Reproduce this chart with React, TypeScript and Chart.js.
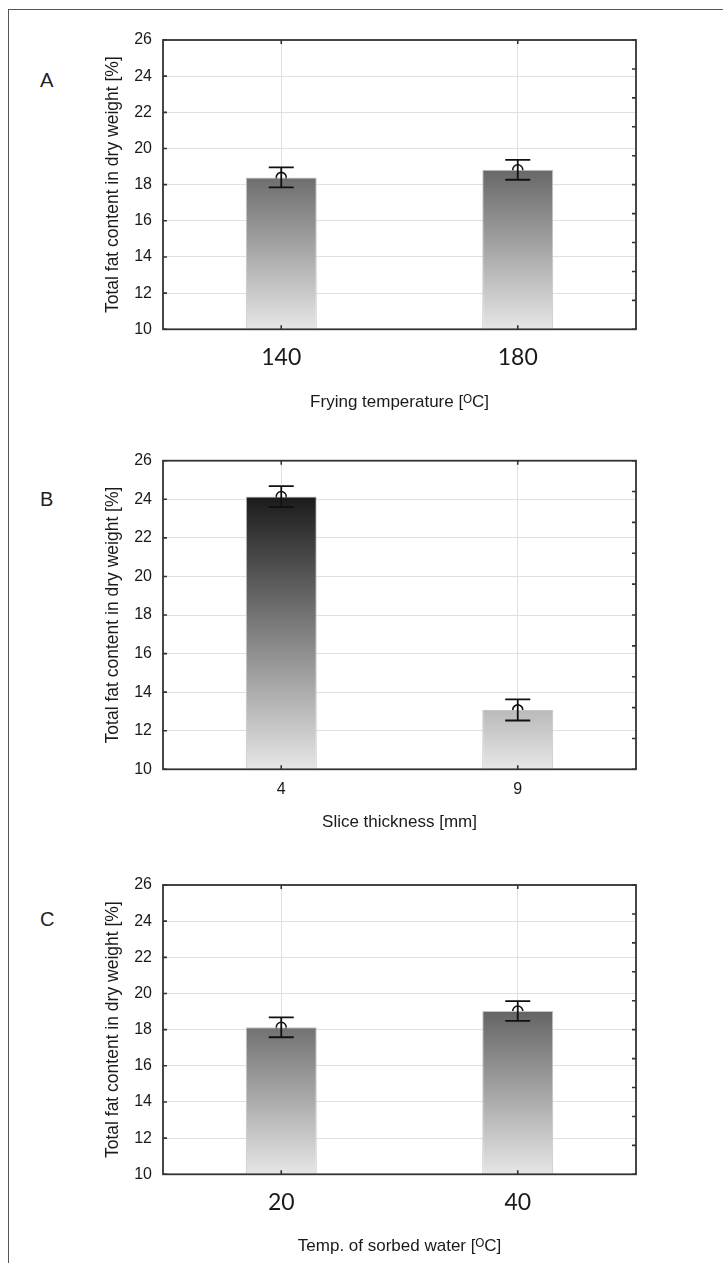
import React, { useEffect, useRef } from 'react';
import { Chart, registerables } from 'chart.js';

Chart.register(...registerables);

// ---- data ----
const yMin = 10;
const yMax = 26;
const yStep = 2;

const tempCategories = ['140', '180'];
const tempMeans = [18.4, 18.82];
const tempErrors = [0.55, 0.55];

const thickCategories = ['4', '9'];
const thickMeans = [24.14, 13.08];
const thickErrors = [0.54, 0.55];

const waterCategories = ['20', '40'];
const waterMeans = [18.13, 19.03];
const waterErrors = [0.55, 0.55];

const yTitle = 'Total fat content in dry weight [%]';
const tempTitle = 'Frying temperature [\u1D3CC]';
const thickTitle = 'Slice thickness [mm]';
const waterTitle = 'Temp. of sorbed water [\u1D3CC]';

const SANS = "'Liberation Sans', 'DejaVu Sans', Arial, sans-serif";
const LATO = "Lato, 'Liberation Sans', sans-serif";

const statisticaPlugin = {
  id: 'statistica',
  afterDatasetsDraw(chart: any, _args: any, opts: any) {
    const { ctx, chartArea: a, scales } = chart;
    const x = scales.x;
    const y = scales.y;
    const y2 = scales.y2;
    const means = chart.data.datasets[0].data as number[];
    ctx.save();
    // error bars
    ctx.strokeStyle = '#111';
    ctx.lineWidth = 1.8;
    means.forEach((m: number, i: number) => {
      const e = opts.errors[i];
      const px = x.getPixelForValue(i);
      const top = y.getPixelForValue(m + e);
      const bot = y.getPixelForValue(m - e);
      ctx.beginPath();
      ctx.moveTo(px, top);
      ctx.lineTo(px, bot);
      ctx.moveTo(px - 12.5, top);
      ctx.lineTo(px + 12.5, top);
      ctx.moveTo(px - 12.5, bot);
      ctx.lineTo(px + 12.5, bot);
      ctx.stroke();
    });
    // plot frame
    ctx.strokeStyle = '#333';
    ctx.lineWidth = 1.8;
    ctx.strokeRect(a.left, a.top, a.right - a.left, a.bottom - a.top);
    // inward tick marks
    ctx.lineWidth = 1.6;
    ctx.beginPath();
    y.ticks.forEach((_t: any, i: number) => {
      const py = y.getPixelForTick(i);
      ctx.moveTo(a.left, py);
      ctx.lineTo(a.left + 4, py);
    });
    y2.ticks.forEach((_t: any, i: number) => {
      const py = y2.getPixelForTick(i);
      ctx.moveTo(a.right, py);
      ctx.lineTo(a.right - 4, py);
    });
    x.ticks.forEach((_t: any, i: number) => {
      const px = x.getPixelForTick(i);
      ctx.moveTo(px, a.bottom);
      ctx.lineTo(px, a.bottom - 4);
      ctx.moveTo(px, a.top);
      ctx.lineTo(px, a.top + 4);
    });
    ctx.stroke();
    ctx.restore();
  },
};

type PanelProps = {
  categories: string[];
  means: number[];
  errors: number[];
  xTitle: string;
  top: number;
  height: number;
  padTop: number;
  xAxisHeight: number;
  xTickFont: any;
  xTickPad: number;
  xTitlePad: number;
};

function Panel(p: PanelProps) {
  const ref = useRef<HTMLCanvasElement>(null);
  useEffect(() => {
    if (!ref.current) return;
    const gradient = (c: any) => {
      const chart = c.chart;
      const { chartArea, scales } = chart;
      if (!chartArea) return '#888';
      const y0 = scales.y.getPixelForValue(yMin);
      const y1 = scales.y.getPixelForValue(yMax);
      const g = chart.ctx.createLinearGradient(0, y0, 0, y1);
      g.addColorStop(0, '#e6e6e6');
      g.addColorStop(1, '#000000');
      return g;
    };
    const chart = new Chart(ref.current, {
      type: 'bar',
      data: {
        labels: p.categories,
        datasets: [
          {
            type: 'bar',
            data: p.means,
            backgroundColor: gradient,
            borderColor: '#c4c4c4',
            borderWidth: 1,
            barPercentage: 0.3,
            categoryPercentage: 1,
            base: yMin,
          } as any,
          {
            type: 'line',
            data: p.means,
            showLine: false,
            pointRadius: 5,
            pointBorderWidth: 1.6,
            pointBorderColor: '#111',
            pointBackgroundColor: 'rgba(0,0,0,0)',
            pointStyle: 'circle',
          } as any,
        ],
      },
      options: {
        animation: false,
        responsive: false,
        devicePixelRatio: 1,
        layout: { padding: { top: p.padTop, right: 87, bottom: 0, left: 0 } },
        plugins: {
          legend: { display: false },
          tooltip: { enabled: false },
          statistica: { errors: p.errors },
        } as any,
        scales: {
          x: {
            type: 'category',
            offset: true,
            grid: { display: true, offset: false, color: '#e0e0e0', lineWidth: 1, drawTicks: false },
            border: { display: false },
            ticks: { font: p.xTickFont, color: '#1a1a1a', padding: p.xTickPad, maxRotation: 0 },
            title: {
              display: true,
              text: p.xTitle,
              color: '#1a1a1a',
              font: { family: SANS, size: 17 },
              padding: { top: 0, bottom: p.xTitlePad },
            },
            afterFit: (s: any) => {
              s.height = p.xAxisHeight;
            },
          },
          y: {
            type: 'linear',
            min: yMin,
            max: yMax,
            ticks: { stepSize: yStep, font: { family: SANS, size: 16 }, color: '#1a1a1a', padding: 11 },
            grid: { color: '#e0e0e0', lineWidth: 1, drawTicks: false },
            border: { display: false },
            title: {
              display: true,
              text: yTitle,
              color: '#1a1a1a',
              font: { family: SANS, size: 17.5 },
              padding: { top: 102.5, bottom: 0 },
            },
            afterFit: (s: any) => {
              s.width = 163;
            },
          },
          y2: {
            type: 'linear',
            position: 'right',
            min: 0,
            max: 10,
            ticks: { stepSize: 1, display: false },
            grid: { display: false, drawTicks: false },
            border: { display: false },
            afterFit: (s: any) => {
              s.width = 0;
            },
          },
        } as any,
      },
      plugins: [statisticaPlugin as any],
    });
    return () => chart.destroy();
  }, []);
  return (
    <canvas
      ref={ref}
      width={723}
      height={p.height}
      style={{ position: 'absolute', left: 0, top: p.top, width: 723, height: p.height }}
    />
  );
}

export default function App() {
  const latoTick = { family: LATO, size: 23 };
  const sansTick = { family: SANS, size: 16 };
  return (
    <div style={{ position: 'absolute', left: 0, top: 0, width: 723, height: 1263, background: '#fff', overflow: 'hidden' }}>
      <div
        style={{
          position: 'absolute',
          left: 8,
          top: 9,
          width: 715,
          height: 1254,
          borderTop: '1px solid #555',
          borderLeft: '1px solid #555',
        }}
      />
      <div style={{ position: 'absolute', left: 40, top: 69, fontFamily: LATO, fontSize: 20, lineHeight: '20px', color: '#222' }}>A</div>
      <div style={{ position: 'absolute', left: 40, top: 489, fontFamily: SANS, fontSize: 20, lineHeight: '20px', color: '#222' }}>B</div>
      <div style={{ position: 'absolute', left: 40, top: 909, fontFamily: SANS, fontSize: 20, lineHeight: '20px', color: '#222' }}>C</div>
      <Panel
        categories={tempCategories}
        means={tempMeans}
        errors={tempErrors}
        xTitle={tempTitle}
        top={0}
        height={420}
        padTop={40}
        xAxisHeight={420 - 329.3}
        xTickFont={latoTick}
        xTickPad={14.9}
        xTitlePad={7.8}
      />
      <Panel
        categories={thickCategories}
        means={thickMeans}
        errors={thickErrors}
        xTitle={thickTitle}
        top={420}
        height={420}
        padTop={40.7}
        xAxisHeight={420 - 349.3}
        xTickFont={sansTick}
        xTickPad={11}
        xTitlePad={7.8}
      />
      <Panel
        categories={waterCategories}
        means={waterMeans}
        errors={waterErrors}
        xTitle={waterTitle}
        top={840}
        height={423}
        padTop={45}
        xAxisHeight={423 - 334.3}
        xTickFont={latoTick}
        xTickPad={14.9}
        xTitlePad={6.8}
      />
    </div>
  );
}
